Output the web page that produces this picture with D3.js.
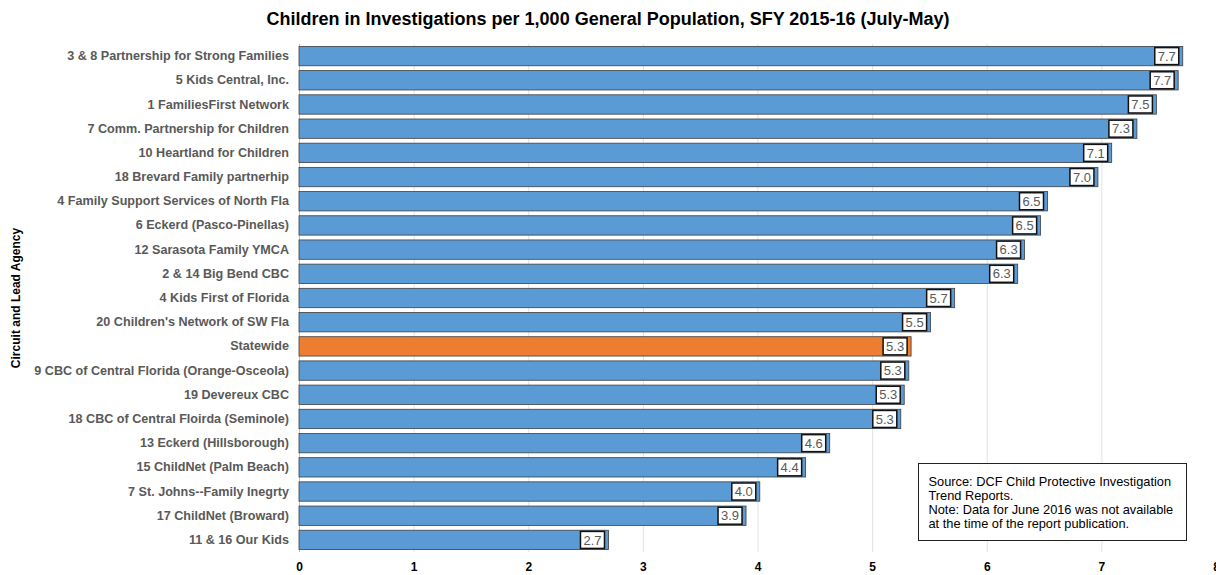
<!DOCTYPE html>
<html>
<head>
<meta charset="utf-8">
<script src="https://cdn.jsdelivr.net/npm/d3@7"></script>
<style>
  body { margin: 0; background: #fff; }
  svg { font-family: "Liberation Sans", Arial, sans-serif; }
</style>
</head>
<body>
<svg width="1216" height="575"></svg>
<script>
// agencies, top to bottom
var agencies = [
  "3 & 8 Partnership for Strong Families",
  "5 Kids Central, Inc.",
  "1 FamiliesFirst Network",
  "7 Comm. Partnership for Children",
  "10 Heartland for Children",
  "18 Brevard Family partnerhip",
  "4 Family Support Services of North Fla",
  "6 Eckerd (Pasco-Pinellas)",
  "12 Sarasota Family YMCA",
  "2 & 14 Big Bend CBC",
  "4 Kids First of Florida",
  "20 Children's Network of SW Fla",
  "Statewide",
  "9 CBC of Central Florida (Orange-Osceola)",
  "19 Devereux CBC",
  "18 CBC of Central Floirda (Seminole)",
  "13 Eckerd (Hillsborough)",
  "15 ChildNet (Palm Beach)",
  "7 St. Johns--Family Inegrty",
  "17 ChildNet (Broward)",
  "11 & 16 Our Kids"
];
var rates = [7.71, 7.67, 7.48, 7.31, 7.09, 6.97, 6.53, 6.47, 6.33, 6.27, 5.72, 5.51,
             5.34, 5.32, 5.28, 5.25, 4.63, 4.42, 4.02, 3.90, 2.70];
var xTicks = [0, 1, 2, 3, 4, 5, 6, 7, 8];
var noteLines = [
  "Source: DCF Child Protective Investigation",
  "Trend Reports.",
  "Note: Data for June 2016 was not available",
  "at the time of the report publication."
];

var data = agencies.map(function(a, i) { return {name: a, value: rates[i]}; });

var svg = d3.select("svg"),
    margin = {top: 44, right: 0, bottom: 23, left: 299},
    width = +svg.attr("width") - margin.left - margin.right,
    height = +svg.attr("height") - margin.top - margin.bottom;

var x = d3.scaleLinear().domain([0, 8]).range([0, width]);
var y = d3.scaleBand().domain(agencies).range([0, height]).paddingInner(0.2).paddingOuter(0.1);

svg.append("text")
    .attr("x", 608).attr("y", 25)
    .attr("text-anchor", "middle")
    .style("font-size", "18px").style("font-weight", "bold").style("fill", "#000")
    .text("Children in Investigations per 1,000 General Population, SFY 2015-16 (July-May)");

svg.append("text")
    .attr("transform", "translate(20," + (margin.top + height / 2) + ") rotate(-90)")
    .attr("text-anchor", "middle")
    .style("font-size", "12px").style("font-weight", "bold").style("fill", "#000")
    .text("Circuit and Lead Agency");

var g = svg.append("g")
    .attr("transform", "translate(" + margin.left + "," + margin.top + ")");

// gridlines
g.selectAll(".grid").data(xTicks).enter().append("line")
    .attr("class", "grid")
    .attr("x1", function(d) { return x(d) + 0.5; })
    .attr("x2", function(d) { return x(d) + 0.5; })
    .attr("y1", 0).attr("y2", height)
    .style("stroke", function(d) { return d == 0 ? "#bfbfbf" : "#e3e3e3"; })
    .style("stroke-width", 1);

// x axis
var xAxis = g.append("g")
    .attr("transform", "translate(0," + height + ")")
    .call(d3.axisBottom(x).tickValues(xTicks).tickFormat(d3.format("d")).tickSize(0).tickPadding(10));
xAxis.select(".domain").remove();
xAxis.selectAll("text")
    .style("font-size", "12px").style("font-weight", "bold").style("fill", "#000")
    .style("font-family", "Liberation Sans, Arial, sans-serif");

// y axis labels
var yAxis = g.append("g")
    .call(d3.axisLeft(y).tickSize(0).tickPadding(10));
yAxis.select(".domain").remove();
yAxis.selectAll("text")
    .style("font-size", "12.6px").style("font-weight", "bold").style("fill", "#595959")
    .style("font-family", "Liberation Sans, Arial, sans-serif");

// bars
g.selectAll(".bar").data(data).enter().append("rect")
    .attr("class", "bar")
    .attr("x", 0)
    .attr("y", function(d) { return y(d.name); })
    .attr("width", function(d) { return x(d.value); })
    .attr("height", y.bandwidth())
    .style("fill", function(d) { return d.name == "Statewide" ? "#ed7d31" : "#5b9bd5"; })
    .style("stroke", "#3f3f3f")
    .style("stroke-width", 0.8);

// value labels
var lab = g.selectAll(".lab").data(data).enter().append("g")
    .attr("class", "lab")
    .attr("transform", function(d) {
      return "translate(" + (x(d.value) - 3) + "," + (y(d.name) + y.bandwidth() / 2) + ")";
    });
lab.append("rect")
    .attr("x", -25).attr("y", -8.5)
    .attr("width", 24).attr("height", 17)
    .style("fill", "#fff").style("stroke", "#111").style("stroke-width", 1.5);
lab.append("text")
    .attr("x", -13).attr("dy", "0.36em")
    .attr("text-anchor", "middle")
    .style("font-size", "13px").style("fill", "#595959")
    .text(function(d) { return d3.format(".1f")(d.value); });

// note box
var note = svg.append("g").attr("transform", "translate(918.5,463.5)");
note.append("rect")
    .attr("width", 268).attr("height", 77)
    .style("fill", "#fff").style("stroke", "#222").style("stroke-width", 1);
note.selectAll("text").data(noteLines).enter().append("text")
    .attr("x", 10)
    .attr("y", function(d, i) { return 22 + i * 14.3; })
    .style("font-size", "12.8px").style("fill", "#000")
    .text(function(d) { return d; });
</script>
</body>
</html>
